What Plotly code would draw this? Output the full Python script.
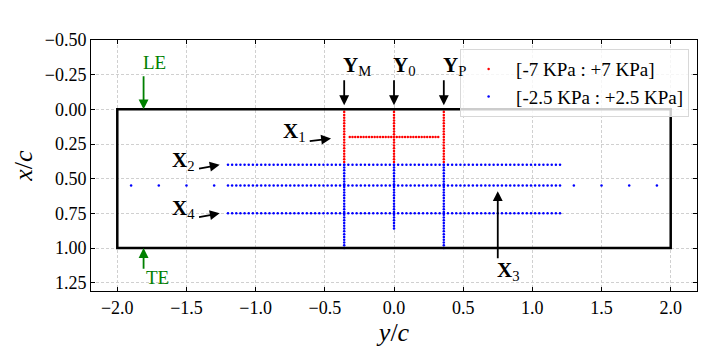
import plotly.graph_objects as go

serif = "Liberation Serif, DejaVu Serif, serif"

# sensor positions (y/c along span, x/c along chord)
span_y = [-1.20, -1.17, -1.14, -1.11, -1.08, -1.05, -1.02, -0.99, -0.96, -0.93,
          -0.90, -0.87, -0.84, -0.81, -0.78, -0.75, -0.72, -0.69, -0.66, -0.63,
          -0.60, -0.57, -0.54, -0.51, -0.48, -0.45, -0.42, -0.39, -0.36, -0.33,
          -0.30, -0.27, -0.24, -0.21, -0.18, -0.15, -0.12, -0.09, -0.06, -0.03,
          0.00, 0.03, 0.06, 0.09, 0.12, 0.15, 0.18, 0.21, 0.24, 0.27,
          0.30, 0.33, 0.36, 0.39, 0.42, 0.45, 0.48, 0.51, 0.54, 0.57,
          0.60, 0.63, 0.66, 0.69, 0.72, 0.75, 0.78, 0.81, 0.84, 0.87,
          0.90, 0.93, 0.96, 0.99, 1.02, 1.05, 1.08, 1.11, 1.14, 1.17, 1.20]
sparse_y = [-1.9, -1.7, -1.5, -1.3, 1.3, 1.5, 1.7, 1.9]
x2_chord = 0.40
x3_chord = 0.55
x4_chord = 0.75
x1_chord = 0.20
x1_span = [-0.32, -0.30, -0.28, -0.26, -0.24, -0.22, -0.20, -0.18, -0.16,
           -0.14, -0.12, -0.10, -0.08, -0.06, -0.04, -0.02, 0.00, 0.02, 0.04,
           0.06, 0.08, 0.10, 0.12, 0.14, 0.16, 0.18, 0.20, 0.22, 0.24,
           0.26, 0.28, 0.30, 0.32]
y_stations = [-0.36, 0.0, 0.36]
red_chord = [0.00, 0.02, 0.04, 0.06, 0.08, 0.10, 0.12, 0.14, 0.16, 0.18,
             0.20, 0.22, 0.24, 0.26, 0.28, 0.30, 0.32, 0.34, 0.36, 0.38]
blue_chord = [0.40, 0.42, 0.44, 0.46, 0.48, 0.50, 0.52, 0.54, 0.56, 0.58,
              0.60, 0.62, 0.64, 0.66, 0.68, 0.70, 0.72, 0.74, 0.76, 0.78,
              0.80, 0.82, 0.84, 0.86, 0.88, 0.90, 0.92, 0.94, 0.96, 0.98, 1.00]
blue_chord_mid = [0.40, 0.42, 0.44, 0.46, 0.48, 0.50, 0.52, 0.54, 0.56, 0.58,
                  0.60, 0.62, 0.64, 0.66, 0.68, 0.70, 0.72, 0.74, 0.76, 0.78,
                  0.80, 0.82, 0.84, 0.86]

# red set: three chordwise rows + X1 spanwise row
red_y, red_x = [], []
for ys in y_stations:
    red_y += [ys] * len(red_chord)
    red_x += red_chord
red_y += x1_span
red_x += [x1_chord] * len(x1_span)

# blue set
blue_y, blue_x = [], []
for xc in [x2_chord, x4_chord]:
    blue_y += span_y
    blue_x += [xc] * len(span_y)
blue_y += span_y + sparse_y
blue_x += [x3_chord] * (len(span_y) + len(sparse_y))
for ys in y_stations:
    ch = blue_chord_mid if ys == 0.0 else blue_chord
    blue_y += [ys] * len(ch)
    blue_x += ch

fig = go.Figure()
fig.add_trace(go.Scatter(x=red_y, y=red_x, mode='markers', name='[-7 KPa : +7 KPa]',
                         marker=dict(color='red', size=2.5)))
fig.add_trace(go.Scatter(x=blue_y, y=blue_x, mode='markers', name='[-2.5 KPa : +2.5 KPa]',
                         marker=dict(color='blue', size=2.5)))

# wing outline
fig.add_shape(type='rect', x0=-2, x1=2, y0=0, y1=1, line=dict(color='black', width=2.5))

def arrow(x, y, ax, ay, color='black'):
    fig.add_annotation(x=x, y=y, ax=ax, ay=ay, xref='x', yref='y', axref='x', ayref='y',
                       text='', showarrow=True, arrowhead=2, arrowsize=1.1,
                       arrowwidth=1.8, arrowcolor=color)

def label(x, y, txt, color='black', size=21, anchor='center'):
    fig.add_annotation(x=x, y=y, xref='x', yref='y', text=txt, showarrow=False,
                       xanchor=anchor, font=dict(family=serif, size=size, color=color))

arrow(-1.81, 0.0, -1.81, -0.25, 'green')
label(-1.83, -0.34, 'LE', 'green', 19, 'left')
arrow(-1.81, 1.0, -1.81, 1.16, 'green')
label(-1.81, 1.215, 'TE', 'green', 19, 'left')

arrow(-0.36, -0.03, -0.36, -0.22)
label(-0.38, -0.31, '<b>Y</b><sub>M</sub>', anchor='left')
arrow(0.0, -0.03, 0.0, -0.22)
label(-0.02, -0.31, '<b>Y</b><sub>0</sub>', anchor='left')
arrow(0.36, -0.03, 0.36, -0.22)
label(0.34, -0.31, '<b>Y</b><sub>P</sub>', anchor='left')

arrow(-0.455, 0.21, -0.62, 0.23)
label(-0.72, 0.16, '<b>X</b><sub>1</sub>')
arrow(-1.26, 0.40, -1.42, 0.43)
label(-1.52, 0.37, '<b>X</b><sub>2</sub>')
arrow(-1.26, 0.75, -1.42, 0.78)
label(-1.52, 0.72, '<b>X</b><sub>4</sub>')
arrow(0.75, 0.59, 0.75, 1.085)
label(0.83, 1.165, '<b>X</b><sub>3</sub>')

axis_common = dict(showline=True, linecolor='black', linewidth=1, mirror='ticks',
                   ticks='inside', ticklen=4, tickcolor='black', automargin=False,
                   showgrid=True, gridcolor='#d0d0d0', griddash='3px,2px', gridwidth=0.7,
                   zeroline=False, tickfont=dict(family=serif, size=18, color='black'))

fig.update_xaxes(range=[-2.19, 2.19], tick0=-2.0, dtick=0.5, tickformat='.1f',
                 title=dict(text='<i>y</i>/<i>c</i>', font=dict(family=serif, size=26),
                            standoff=4),
                 **axis_common)
fig.update_yaxes(range=[1.31, -0.5], tick0=-0.5, dtick=0.25, tickformat='.2f',
                 title=dict(text='<i>x</i>/<i>c</i>', font=dict(family=serif, size=26),
                            standoff=4),
                 **axis_common)

# the page body adds an 8 px offset, so the figure is sized to fit the window
fig.update_layout(
    width=706, height=349,
    margin=dict(l=83, r=17, t=32, b=66),
    plot_bgcolor='white', paper_bgcolor='white',
    font=dict(family=serif, color='black'),
    legend=dict(x=0.987, y=0.964, xanchor='right', yanchor='top', itemwidth=45,
                bgcolor='rgba(255,255,255,0.8)', bordercolor='#d8d8d8', borderwidth=1,
                font=dict(family=serif, size=19)),
)

fig.write_html("out.html")
